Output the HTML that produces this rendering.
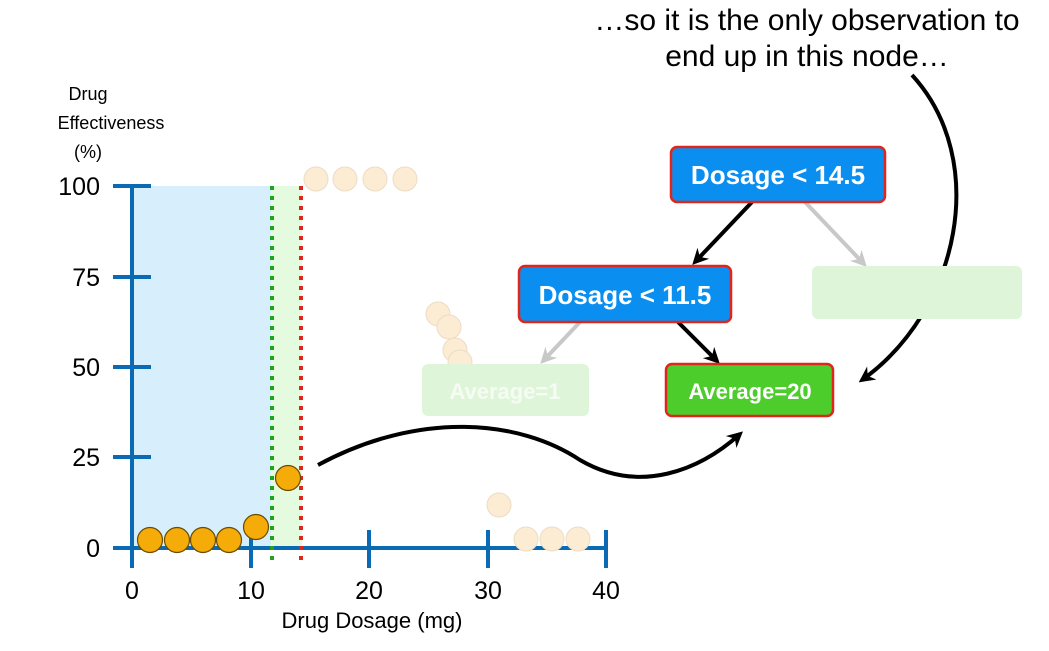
<!DOCTYPE html>
<html><head><style>
body{margin:0;background:#fff;}
svg{display:block;font-family:"Liberation Sans",sans-serif;}
</style></head><body>
<svg width="1049" height="651" viewBox="0 0 1049 651">
<defs>
<marker id="ah" markerWidth="18" markerHeight="18" refX="12" refY="8" orient="auto" markerUnits="userSpaceOnUse"><path d="M0,0 L16,8 L0,16 L5,8z" fill="#000"/></marker>
<marker id="ag" markerWidth="18" markerHeight="18" refX="12" refY="8" orient="auto" markerUnits="userSpaceOnUse"><path d="M0,0 L16,8 L0,16 L5,8z" fill="#c8c8c8"/></marker>
</defs>
<text x="807" y="30" font-size="30" text-anchor="middle">…so it is the only observation to</text>
<text x="807" y="66" font-size="30" text-anchor="middle">end up in this node…</text>
<text x="88" y="100" font-size="18" text-anchor="middle">Drug</text>
<text x="111" y="129" font-size="18" text-anchor="middle">Effectiveness</text>
<text x="88" y="158" font-size="18" text-anchor="middle">(%)</text>
<rect x="132" y="186" width="139" height="362" fill="#d7effc"/>
<rect x="271" y="186" width="31" height="362" fill="#e5fbdf"/>
<g stroke="#0a6ab3" stroke-width="4" fill="none">
<line x1="132" y1="184" x2="132" y2="568"/>
<line x1="113" y1="548" x2="606" y2="548"/>
<line x1="113" y1="186" x2="151" y2="186"/>
<line x1="113" y1="277" x2="151" y2="277"/>
<line x1="113" y1="367" x2="151" y2="367"/>
<line x1="113" y1="457" x2="151" y2="457"/>
<line x1="251" y1="530" x2="251" y2="568"/>
<line x1="369" y1="530" x2="369" y2="568"/>
<line x1="488" y1="530" x2="488" y2="568"/>
<line x1="606" y1="530" x2="606" y2="568"/>
</g>
<g font-size="25" text-anchor="end">
<text x="100" y="195">100</text><text x="100" y="286">75</text><text x="100" y="376">50</text><text x="100" y="466">25</text><text x="100" y="557">0</text>
</g>
<g font-size="25" text-anchor="middle">
<text x="132" y="599">0</text><text x="251" y="599">10</text><text x="369" y="599">20</text><text x="488" y="599">30</text><text x="606" y="599">40</text>
</g>
<text x="372" y="628" font-size="22" text-anchor="middle">Drug Dosage (mg)</text>
<line x1="272" y1="186" x2="272" y2="566" stroke="#1ea51e" stroke-width="4" stroke-dasharray="4,6"/>
<line x1="301" y1="186" x2="301" y2="566" stroke="#e0261c" stroke-width="4" stroke-dasharray="4,6"/>
<g fill="#fcecd3" stroke="#ebdcc4" stroke-width="1">
<circle cx="316" cy="179" r="12"/><circle cx="345" cy="179" r="12"/><circle cx="375" cy="179" r="12"/><circle cx="405" cy="179" r="12"/>
<circle cx="438" cy="314" r="12"/><circle cx="449" cy="327" r="12"/><circle cx="455" cy="350" r="12"/><circle cx="460" cy="362" r="12"/>
<circle cx="499" cy="505" r="12"/><circle cx="526" cy="539" r="12"/><circle cx="552" cy="539" r="12"/><circle cx="578" cy="539" r="12"/>
</g>
<g fill="#f5ac09" stroke="#6a4a00" stroke-width="1.2">
<circle cx="150" cy="540" r="12.5"/><circle cx="177" cy="540" r="12.5"/><circle cx="203" cy="540" r="12.5"/><circle cx="229" cy="540" r="12.5"/><circle cx="256" cy="527" r="12.5"/><circle cx="288" cy="478" r="12.5"/>
</g>
<path d="M318,465 C420,410 520,420 580,460 C640,495 700,470 740,434" stroke="#000" stroke-width="4" fill="none" marker-end="url(#ah)"/>
<path d="M912,75 C990,160 960,310 862,380" stroke="#000" stroke-width="4" fill="none" marker-end="url(#ah)"/>
<line x1="752" y1="202" x2="695" y2="262" stroke="#000" stroke-width="4" marker-end="url(#ah)"/>
<line x1="805" y1="202" x2="864" y2="264" stroke="#c8c8c8" stroke-width="4" marker-end="url(#ag)"/>
<line x1="678" y1="322" x2="717" y2="361" stroke="#000" stroke-width="4" marker-end="url(#ah)"/>
<line x1="580" y1="322" x2="543" y2="361" stroke="#c8c8c8" stroke-width="4" marker-end="url(#ag)"/>
<rect x="812" y="266" width="210" height="53" rx="6" fill="#dff5d9"/>
<rect x="422" y="364" width="167" height="52" rx="6" fill="#dff5d9"/>
<text x="505" y="399" font-size="22" font-weight="bold" fill="#f5fcf3" text-anchor="middle">Average=1</text>
<rect x="671" y="147" width="214" height="55" rx="6" fill="#0a8ef0" stroke="#e0261c" stroke-width="2.5"/>
<text x="778" y="184" font-size="26" font-weight="bold" fill="#fff" text-anchor="middle">Dosage &lt; 14.5</text>
<rect x="519" y="266" width="212" height="56" rx="6" fill="#0a8ef0" stroke="#e0261c" stroke-width="2.5"/>
<text x="625" y="304" font-size="26" font-weight="bold" fill="#fff" text-anchor="middle">Dosage &lt; 11.5</text>
<rect x="666" y="364" width="167" height="52" rx="6" fill="#4ccd2b" stroke="#e0261c" stroke-width="2.5"/>
<text x="750" y="399" font-size="22" font-weight="bold" fill="#fff" text-anchor="middle">Average=20</text>
</svg>
</body></html>
